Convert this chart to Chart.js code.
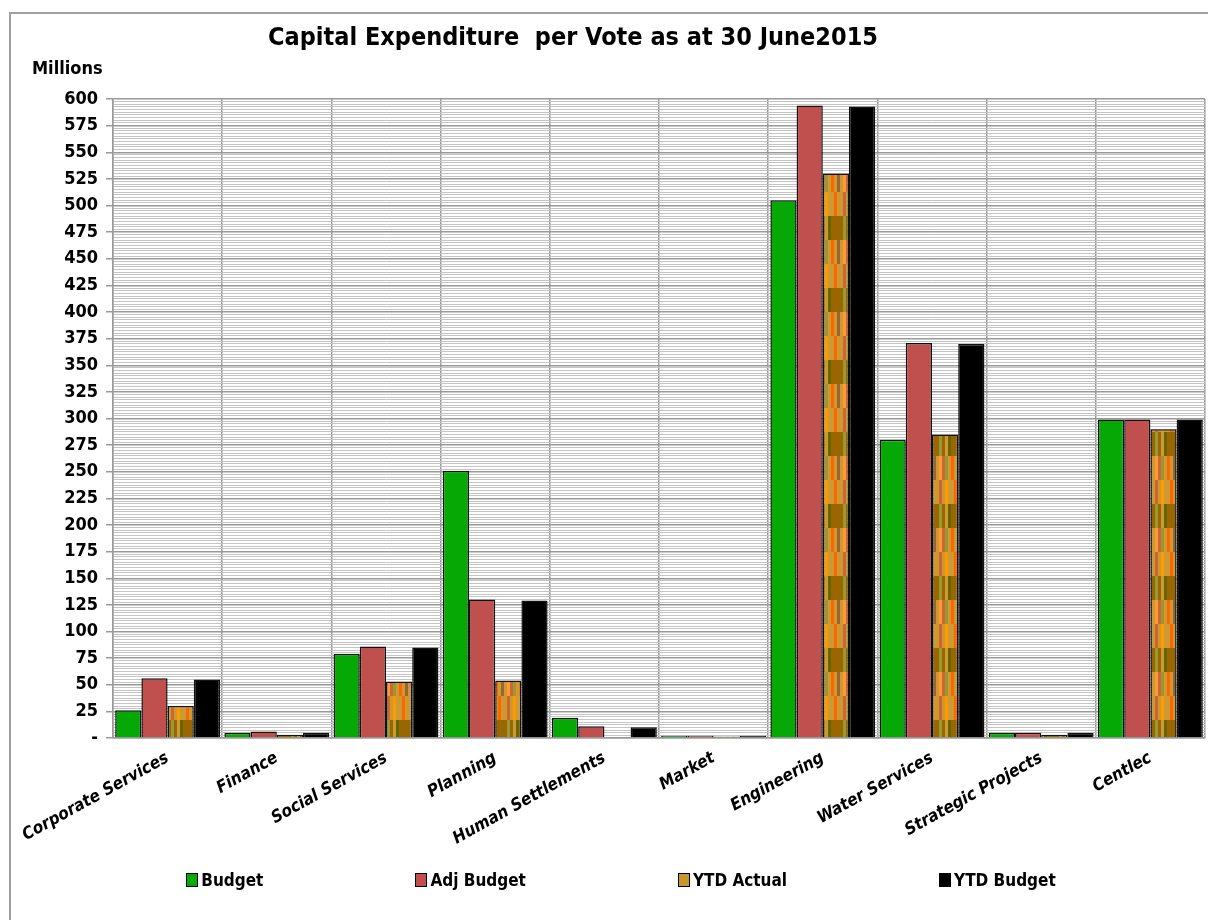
<!DOCTYPE html>
<html>
<head>
<meta charset="utf-8">
<title>Capital Expenditure per Vote</title>
<script src="https://cdn.jsdelivr.net/npm/chart.js@4/dist/chart.umd.min.js"></script>
<style>
  html, body { margin: 0; padding: 0; background: #fff; }
  body { width: 1208px; height: 920px; position: relative; overflow: hidden;
         font-family: "DejaVu Sans Condensed", "Liberation Sans", sans-serif; }
  #frame { position: absolute; left: 9px; top: 12px; width: 1300px; height: 1000px;
           border-top: 2px solid #a0a0a0; border-left: 2px solid #a0a0a0; }
  #chart { position: absolute; left: 0; top: 0; }
  #title { position: absolute; left: 0; top: 22px; width: 1146px; text-align: center;
           font-weight: bold; font-size: 25px; color: #000; }
  #units { position: absolute; left: 32px; top: 57px; font-weight: bold; font-size: 18px; }
  #legend { position: absolute; left: 34px; top: 870px; width: 1174px; display: flex;
            justify-content: center; gap: 152px; font-weight: bold; font-size: 17px; }
  .lg-item { display: flex; align-items: center; }
  .lg-box { width: 10px; height: 12px; border: 1.5px solid #000; margin-right: 3px; }
</style>
</head>
<body>
<div id="frame"></div>
<canvas id="chart" width="1208" height="920"></canvas>
<div id="title">Capital Expenditure&nbsp; per Vote as at 30 June2015</div>
<div id="units">Millions</div>
<div id="legend"></div>

<script>
(function () {
  'use strict';

  // ── Data ───────────────────────────────────────────────────
  const categories = ['Corporate Services', 'Finance', 'Social Services', 'Planning',
    'Human Settlements', 'Market', 'Engineering', 'Water Services',
    'Strategic Projects', 'Centlec'];

  const budget     = [26, 5, 79, 251, 19, 2, 505, 280, 5, 299];
  const adjBudget  = [56, 6, 86, 130, 11, 2, 594, 371, 5, 299];
  const ytdActual  = [30, 3, 53, 54, 0, 1.5, 530, 285, 3, 290];
  const ytdBudget  = [55, 5, 85, 129, 10, 2, 593, 370, 5, 299];

  const seriesNames = ['Budget', 'Adj Budget', 'YTD Actual', 'YTD Budget'];

  const yMax = 600;
  const yMajorStep = 25;
  const yMinorStep = 2.5;

  // ── Fill for the YTD Actual bars (mottled orange/brown) ────
  function makeActualPattern() {
    const c = document.createElement('canvas');
    c.width = 24; c.height = 72;
    const g = c.getContext('2d');
    const rows = [
      ['#996600', '#999933', '#996600', '#cc9933', '#666600', '#996600', '#996600', '#996600'],
      ['#cc9933', '#ff9933', '#cc6633', '#999933', '#cc9933', '#ff6600', '#cc9933', '#996633'],
      ['#cc9933', '#cc6633', '#cc9933', '#ff9900', '#cc9933', '#cc9933', '#ff6600', '#cc9933']
    ];
    rows.forEach((row, r) => {
      row.forEach((col, i) => {
        g.fillStyle = col;
        g.fillRect(i * 3, r * 24, 3, 24);
      });
    });
    return g.createPattern(c, 'repeat');
  }

  const fills   = ['#06a806', '#c0504d', makeActualPattern(), '#000000'];
  const legendSwatch = ['#06a806', '#c0504d', '#c8962e', '#000000'];
  const values  = [budget, adjBudget, ytdActual, ytdBudget];

  const baseFont = '"DejaVu Sans Condensed", "Liberation Sans", sans-serif';

  const isMajor = v => Math.abs(v / yMajorStep - Math.round(v / yMajorStep)) < 1e-6;

  // ── Chart ──────────────────────────────────────────────────
  new Chart(document.getElementById('chart'), {
    type: 'bar',
    data: {
      labels: categories,
      datasets: seriesNames.map((name, i) => ({
        label: name,
        data: values[i],
        backgroundColor: fills[i],
        borderColor: '#111',
        borderWidth: 1.5,
        borderSkipped: 'bottom',
        categoryPercentage: 0.96,
        barPercentage: 1.0
      }))
    },
    options: {
      responsive: false,
      devicePixelRatio: 1,
      animation: false,
      layout: { padding: { top: 99, right: 3, bottom: 72, left: 0 } },
      plugins: {
        legend: { display: false },
        title: { display: false },
        tooltip: { enabled: false }
      },
      scales: {
        x: {
          afterFit: s => { s.height = 110; },
          grid: { offset: true, color: '#9a9a9a', lineWidth: 1.5, drawTicks: false },
          border: { color: '#9a9a9a', width: 1.5 },
          ticks: {
            color: '#000',
            autoSkip: false,
            minRotation: 29,
            maxRotation: 29,
            padding: 10,
            font: { family: baseFont, size: 17, weight: 'bold', style: 'italic' }
          }
        },
        y: {
          min: 0,
          max: yMax,
          afterFit: s => { s.width = 113; },
          afterBuildTicks: s => {
            const t = [];
            for (let i = 0; i <= yMax / yMinorStep; i++) t.push({ value: i * yMinorStep });
            s.ticks = t;
          },
          grid: {
            color: c => (c.tick && isMajor(c.tick.value)) ? '#999999' : '#c4c4c4',
            lineWidth: c => (c.tick && isMajor(c.tick.value)) ? 1.5 : 1,
            tickColor: c => (c.tick && isMajor(c.tick.value)) ? '#999999' : 'rgba(0,0,0,0)',
            tickLength: 7
          },
          border: { color: '#999999', width: 1.5 },
          ticks: {
            color: '#000',
            autoSkip: false,
            padding: 8,
            font: { family: baseFont, size: 18, weight: 'bold' },
            callback: v => isMajor(v) ? (v === 0 ? '-' : String(Math.round(v))) : ''
          }
        }
      }
    }
  });

  // ── Legend ─────────────────────────────────────────────────
  const legend = document.getElementById('legend');
  seriesNames.forEach((name, i) => {
    const item = document.createElement('div');
    item.className = 'lg-item';
    const box = document.createElement('span');
    box.className = 'lg-box';
    box.style.background = legendSwatch[i];
    item.appendChild(box);
    item.appendChild(document.createTextNode(name));
    legend.appendChild(item);
  });
})();
</script>
</body>
</html>
